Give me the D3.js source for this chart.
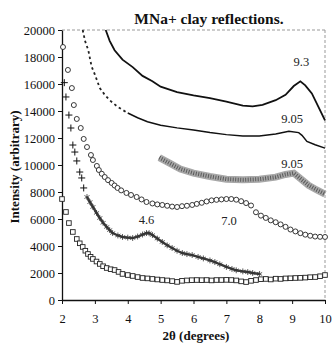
<!DOCTYPE html>
<html>
<head>
<meta charset="utf-8">
<script src="https://cdn.jsdelivr.net/npm/d3@7"></script>
<style>
  body { margin: 0; background: #fff; }
  svg text { font-family: "Liberation Serif", "Times New Roman", "DejaVu Serif", serif; }
</style>
</head>
<body>
<script>
// angles (2theta) and intensities
const s1x = [3.33, 3.45, 3.6, 3.84, 4.15, 4.45, 4.75, 5.0, 5.5, 6.0, 6.5, 7.0, 7.5, 7.8, 8.1, 8.5, 8.8, 9.05, 9.25, 9.4, 9.6, 9.8, 10.0];
const s1y = [20000, 19200, 18500, 17800, 17250, 16600, 16200, 15800, 15400, 15150, 14950, 14700, 14400, 14350, 14450, 14800, 15200, 15850, 16200, 15900, 15300, 14300, 13300];

const s2x = [2.63, 2.7, 2.8, 2.9, 3.0, 3.15, 3.3, 3.45, 3.7, 4.0, 4.3, 4.6, 5.0, 5.5, 6.0, 6.5, 7.0, 7.5, 8.0, 8.5, 8.9, 9.2, 9.3, 9.45, 9.7, 10.0];
const s2y = [20000, 19200, 18500, 17300, 16700, 15700, 15200, 14800, 14300, 13850, 13500, 13200, 12950, 12750, 12600, 12400, 12250, 12150, 12150, 12300, 12500, 12400, 12200, 11750, 11500, 11250];

const s3x = [4.96, 5.3, 5.6, 6.0, 6.5, 7.0, 7.5, 8.0, 8.5, 8.8, 9.05, 9.25, 9.5, 9.75, 10.0];
const s3y = [10550, 10100, 9700, 9400, 9150, 8950, 8900, 8950, 9100, 9300, 9400, 9000, 8500, 8150, 7850];

const s4x = [2.03, 2.18, 2.30, 2.36, 2.45, 2.57, 2.66, 2.76, 2.88, 2.94, 3.06, 3.12, 3.21, 3.30, 3.40, 3.51, 3.60, 3.69, 3.80, 3.96, 4.10, 4.27, 4.42, 4.57, 4.75, 4.90, 5.05, 5.2, 5.35, 5.5, 5.65, 5.8, 5.96, 6.1, 6.25, 6.4, 6.55, 6.7, 6.85, 7.0, 7.15, 7.3, 7.45, 7.6, 7.75, 7.9, 8.05, 8.2, 8.35, 8.5, 8.65, 8.8, 8.95, 9.1, 9.25, 9.4, 9.55, 9.7, 9.85, 10.0];
const s4y = [18740, 17040, 15700, 14440, 13410, 12740, 11930, 11330, 10740, 10370, 9930, 9630, 9350, 9110, 8880, 8670, 8480, 8300, 8120, 7930, 7780, 7630, 7450, 7260, 7150, 7080, 7040, 6980, 6920, 6890, 6950, 6980, 7040, 7120, 7200, 7300, 7380, 7420, 7450, 7480, 7480, 7430, 7320, 7180, 7000, 6500, 6250, 6080, 5900, 5760, 5600, 5420, 5220, 5080, 4950, 4840, 4760, 4700, 4680, 4670];

const s5px = [2.07, 2.12, 2.21, 2.27, 2.33, 2.39, 2.45, 2.54, 2.60, 2.66];
const s5py = [16100, 15040, 13700, 12740, 11480, 10960, 10300, 9480, 9040, 8300];
const s5x = [2.76, 2.85, 2.94, 3.05, 3.15, 3.25, 3.36, 3.45, 3.54, 3.7, 3.84, 4.0, 4.15, 4.3, 4.45, 4.57, 4.65, 4.75, 4.9, 5.05, 5.2, 5.35, 5.5, 5.66, 5.8, 5.96, 6.14, 6.3, 6.5, 6.65, 6.8, 7.0, 7.17, 7.3, 7.5, 7.65, 7.8, 8.01];
const s5y = [7630, 7250, 6890, 6450, 6070, 5720, 5410, 5180, 4960, 4780, 4670, 4620, 4590, 4700, 4850, 4960, 4950, 4810, 4550, 4300, 4050, 3850, 3650, 3480, 3400, 3330, 3190, 3080, 2930, 2810, 2650, 2450, 2300, 2200, 2120, 2070, 2000, 1930];

const s6x = [2.00, 2.12, 2.21, 2.33, 2.45, 2.54, 2.63, 2.71, 2.79, 2.87, 2.94, 3.05, 3.15, 3.25, 3.36, 3.48, 3.60, 3.72, 3.84, 4.0, 4.15, 4.3, 4.45, 4.6, 4.75, 4.9, 5.05, 5.2, 5.35, 5.5, 5.65, 5.8, 5.95, 6.1, 6.25, 6.4, 6.55, 6.7, 6.85, 7.0, 7.15, 7.3, 7.45, 7.6, 7.75, 7.9, 8.05, 8.2, 8.35, 8.5, 8.65, 8.8, 8.95, 9.1, 9.25, 9.4, 9.55, 9.7, 9.85, 10.0];
const s6y = [7480, 6520, 5700, 5040, 4520, 4200, 3930, 3650, 3410, 3200, 3040, 2850, 2670, 2500, 2370, 2280, 2220, 2080, 1930, 1850, 1780, 1700, 1630, 1600, 1560, 1520, 1480, 1450, 1400, 1340, 1420, 1450, 1470, 1480, 1470, 1480, 1450, 1480, 1480, 1490, 1480, 1450, 1380, 1330, 1420, 1480, 1540, 1560, 1520, 1580, 1560, 1600, 1610, 1630, 1640, 1660, 1690, 1700, 1760, 1850];

const xTicks = [2, 3, 4, 5, 6, 7, 8, 9, 10];
const yTicks = [0, 2000, 4000, 6000, 8000, 10000, 12000, 14000, 16000, 18000, 20000];

// peak labels: text, angle, intensity
const peakText = ["9.3", "9.05", "9.05", "4.6", "7.0"];
const peakX = [9.28, 9.0, 9.0, 4.57, 7.08];
const peakY = [17630, 13400, 10070, 5930, 5850];

const width = 332, height = 345;
const margin = { top: 30, right: 7, bottom: 45, left: 62 };
const serif = "'Liberation Serif', 'Times New Roman', 'DejaVu Serif', serif";

const svg = d3.select("body").append("svg")
  .attr("width", width)
  .attr("height", height);

const x = d3.scaleLinear().domain([2, 10]).range([margin.left, width - margin.right]);
const y = d3.scaleLinear().domain([0, 20000]).range([height - margin.bottom, margin.top]);

const zip = (xs, ys) => xs.map((v, i) => [v, ys[i]]);
const line = d3.line().x(d => x(d[0])).y(d => y(d[1]));

// dotted frame top and right
svg.append("line")
  .attr("x1", x(2)).attr("x2", x(10)).attr("y1", y(20000)).attr("y2", y(20000))
  .attr("stroke", "#999").attr("stroke-dasharray", "3,2");
svg.append("line")
  .attr("x1", x(10)).attr("x2", x(10)).attr("y1", y(20000)).attr("y2", y(0))
  .attr("stroke", "#999").attr("stroke-dasharray", "3,2");

// axes
const yAxis = svg.append("g")
  .attr("transform", `translate(${margin.left},0)`)
  .call(d3.axisLeft(y).tickValues(yTicks).tickFormat(d3.format("d"))
    .tickSize(4).tickSizeOuter(0).tickPadding(3));
const xAxis = svg.append("g")
  .attr("transform", `translate(0,${height - margin.bottom})`)
  .call(d3.axisBottom(x).tickValues(xTicks).tickFormat(d3.format("d"))
    .tickSize(4).tickSizeOuter(0).tickPadding(10));
[xAxis, yAxis].forEach(a => {
  a.attr("font-family", serif);
  a.select(".domain").attr("stroke", "#111").attr("stroke-width", 1.3);
  a.selectAll(".tick line").attr("stroke", "#111");
  a.selectAll("text").attr("font-size", 12.5).attr("fill", "#111");
});

const plot = svg.append("g");

// series 1: solid line
plot.append("path").datum(zip(s1x, s1y))
  .attr("d", line).attr("fill", "none").attr("stroke", "#111").attr("stroke-width", 1.8);

// series 2: dashed marks on the steep part, then a line
const s2 = zip(s2x, s2y);
plot.append("path").datum(s2.filter(d => d[0] <= 4.0))
  .attr("d", line).attr("fill", "none").attr("stroke", "#222")
  .attr("stroke-width", 1.8).attr("stroke-dasharray", "2.5,3");
plot.append("path").datum(s2.filter(d => d[0] >= 4.0))
  .attr("d", line).attr("fill", "none").attr("stroke", "#111").attr("stroke-width", 1.5);

// series 3: grey hatched band
const s3 = zip(s3x, s3y);
plot.append("path").datum(s3)
  .attr("d", line).attr("fill", "none").attr("stroke", "#a8a8a8").attr("stroke-width", 7);
plot.append("path").datum(s3)
  .attr("d", line).attr("fill", "none").attr("stroke", "#5a5a5a")
  .attr("stroke-width", 4).attr("stroke-dasharray", "1,1.5");

// series 4: open circles
plot.selectAll(".c4").data(zip(s4x, s4y)).join("circle")
  .attr("cx", d => x(d[0])).attr("cy", d => y(d[1])).attr("r", 2.5)
  .attr("fill", "#fff").attr("stroke", "#222").attr("stroke-width", 0.9);

// series 5: plus marks, then dense dark asterisks
plot.selectAll(".p5").data(zip(s5px, s5py)).join("path")
  .attr("transform", d => `translate(${x(d[0])},${y(d[1])})`)
  .attr("d", d3.symbol().type(d3.symbolPlus).size(18))
  .attr("fill", "none").attr("stroke", "#111").attr("stroke-width", 1);
const s5 = zip(s5x, s5y);
plot.append("path").datum(s5)
  .attr("d", line).attr("fill", "none").attr("stroke", "#3a3a3a").attr("stroke-width", 2.4);
plot.selectAll(".a5").data(s5).join("path")
  .attr("transform", d => `translate(${x(d[0])},${y(d[1])})`)
  .attr("d", d3.symbol().type(d3.symbolAsterisk).size(24))
  .attr("fill", "none").attr("stroke", "#333").attr("stroke-width", 0.8);

// series 6: open squares
plot.selectAll(".q6").data(zip(s6x, s6y)).join("rect")
  .attr("x", d => x(d[0]) - 2.3).attr("y", d => y(d[1]) - 2.3)
  .attr("width", 4.6).attr("height", 4.6)
  .attr("fill", "#fff").attr("stroke", "#222").attr("stroke-width", 0.9);

// peak labels
svg.selectAll(".peak").data(peakText).join("text")
  .attr("x", (d, i) => x(peakX[i])).attr("y", (d, i) => y(peakY[i]))
  .attr("dy", "0.35em").attr("text-anchor", "middle")
  .attr("font-family", serif).attr("font-size", 12.5).attr("fill", "#222")
  .text(d => d);

// title and axis titles
svg.append("text")
  .attr("x", 209).attr("y", 24).attr("text-anchor", "middle")
  .attr("font-family", serif).attr("font-size", 15.5).attr("font-weight", "bold").attr("fill", "#111")
  .text("MNa+ clay reflections.");
svg.append("text")
  .attr("transform", "translate(19,167) rotate(-90)")
  .attr("text-anchor", "middle")
  .attr("font-family", serif).attr("font-size", 13).attr("font-weight", "bold").attr("fill", "#111")
  .text("Intensity (arbitrary)");
svg.append("text")
  .attr("x", 196).attr("y", 340).attr("text-anchor", "middle")
  .attr("font-family", serif).attr("font-size", 13).attr("font-weight", "bold").attr("fill", "#111")
  .text("2θ (degrees)");
</script>
</body>
</html>
